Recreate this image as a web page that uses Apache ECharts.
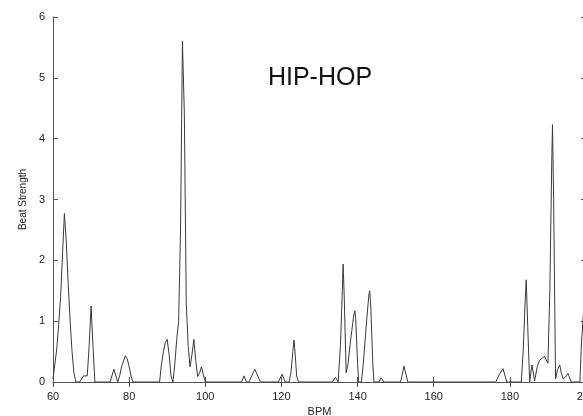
<!DOCTYPE html>
<html>
<head>
<meta charset="utf-8">
<script src="https://cdn.jsdelivr.net/npm/echarts@6/dist/echarts.min.js"></script>
<style>
  html, body { margin: 0; padding: 0; background: #fff; }
  #chart { width: 583px; height: 416px; }
</style>
</head>
<body>
<div id="chart"></div>
<script>
// Tempo (BPM) sample positions and the beat strength measured at each one
const bpm = [
  60, 60.5, 61, 61.5, 62, 62.5, 63, 63.5, 64, 64.5, 65, 65.5, 66,
  67, 67.5, 68, 69, 69.5, 70, 70.5, 71,
  75, 76, 77, 77.5, 78, 79, 79.5, 80, 80.5, 81,
  88, 88.5, 89, 89.5, 90, 90.5, 91, 91.5,
  92, 92.5, 93, 93.5, 94, 94.5, 95, 95.5, 96, 96.5, 97, 97.5, 98, 98.5, 99, 99.5, 100,
  109.5, 110.2, 110.8, 111.5, 113, 114.5,
  119.2, 120.2, 121, 122, 122.5, 123, 123.3, 123.5, 124, 124.5,
  133.4, 134.2, 134.9, 135.2, 135.5, 136, 136.2, 136.5, 137, 137.5, 138, 138.5, 139, 139.3, 139.5, 140, 140.3,
  141, 141.5, 142, 142.5, 143, 143.2, 143.5, 144, 144.3,
  145.6, 146.2, 146.9,
  151.3, 152.2, 153.2,
  176.3, 177.2, 178.2, 179.2,
  183, 183.5, 184, 184.3, 184.7, 185.2, 185.8, 186.5, 187.2, 187.8, 189.1, 190, 190.5, 191, 191.2, 191.5, 192,
  192.5, 193.1, 193.5, 194, 194.6, 195.3, 196.1,
  198.4, 198.8, 199.3, 200
];
const strength = [
  0.05, 0.3, 0.55, 0.95, 1.4, 2.1, 2.77, 2.3, 1.6, 1.0, 0.5, 0.15, 0,
  0, 0.05, 0.1, 0.1, 0.6, 1.25, 0.6, 0,
  0, 0.21, 0, 0.1, 0.25, 0.43, 0.38, 0.25, 0.1, 0,
  0, 0.3, 0.5, 0.65, 0.7, 0.45, 0.1, 0,
  0.3, 0.7, 1.0, 2.5, 5.6, 4.4, 1.3, 0.6, 0.25, 0.45, 0.7, 0.35, 0.09, 0.15, 0.25, 0.12, 0,
  0, 0.1, 0, 0, 0.21, 0,
  0, 0.13, 0, 0, 0.15, 0.5, 0.69, 0.55, 0.1, 0,
  0, 0.08, 0, 0, 0.6, 1.5, 1.94, 1.4, 0.15, 0.3, 0.6, 0.85, 1.1, 1.17, 1.05, 0.3, 0,
  0, 0.3, 0.7, 1.1, 1.45, 1.5, 1.2, 0.3, 0,
  0, 0.07, 0,
  0, 0.26, 0,
  0, 0.12, 0.22, 0,
  0, 0.5, 1.3, 1.68, 0.9, 0, 0.28, 0.02, 0.25, 0.36, 0.42, 0.31, 1.5, 3.6, 4.23, 3.0, 0.05,
  0.2, 0.28, 0.15, 0.05, 0.08, 0.14, 0,
  0, 0.64, 1.1, 1.5
];
const xTicks = [60, 80, 100, 120, 140, 160, 180, 200];
const yTicks = [0, 1, 2, 3, 4, 5, 6];

const points = bpm.map((b, i) => [b, strength[i]]);

const frame = '#555';
const labelFont = { fontFamily: 'Liberation Sans, Arial, sans-serif', fontSize: 11, color: '#222' };
const inwardTick = { show: true, inside: true, length: 5, lineStyle: { color: frame, width: 1 } };

const chart = echarts.init(document.getElementById('chart'), null, { renderer: 'canvas' });
chart.setOption({
  animation: false,
  backgroundColor: '#fff',
  title: {
    text: 'HIP-HOP',
    left: 315,
    top: 61,
    textAlign: 'center',
    textStyle: { fontFamily: 'Liberation Sans, Arial, sans-serif', fontSize: 25, fontWeight: 'normal', color: '#111' }
  },
  // the frame runs slightly past the right edge of the canvas
  grid: { left: 53, right: -3, top: 17, bottom: 34, containLabel: false, outerBoundsMode: 'none' },
  xAxis: [
    {
      type: 'value', position: 'bottom',
      min: xTicks[0], max: xTicks[xTicks.length - 1], interval: 20,
      name: 'BPM', nameLocation: 'middle', nameGap: 24,
      nameTextStyle: { fontFamily: 'Liberation Sans, Arial, sans-serif', fontSize: 11, color: '#222' },
      axisLine: { show: true, lineStyle: { color: frame, width: 1 } },
      axisTick: inwardTick,
      axisLabel: Object.assign({ margin: 9 }, labelFont),
      splitLine: { show: false }
    },
    {
      type: 'value', position: 'top',
      min: xTicks[0], max: xTicks[xTicks.length - 1], interval: 20,
      axisLine: { show: true, lineStyle: { color: frame, width: 1 } },
      axisTick: inwardTick,
      axisLabel: { show: false },
      splitLine: { show: false }
    }
  ],
  yAxis: [
    {
      type: 'value', position: 'left',
      min: yTicks[0], max: yTicks[yTicks.length - 1], interval: 1,
      name: 'Beat Strength', nameLocation: 'middle', nameGap: 23,
      nameTextStyle: { fontFamily: 'Liberation Sans, Arial, sans-serif', fontSize: 10, color: '#222' },
      axisLine: { show: true, lineStyle: { color: frame, width: 1 } },
      axisTick: inwardTick,
      axisLabel: Object.assign({ margin: 8 }, labelFont),
      splitLine: { show: false }
    },
    {
      type: 'value', position: 'right',
      min: yTicks[0], max: yTicks[yTicks.length - 1], interval: 1,
      axisLine: { show: true, lineStyle: { color: frame, width: 1 } },
      axisTick: inwardTick,
      axisLabel: { show: false },
      splitLine: { show: false }
    }
  ],
  series: [{
    type: 'line',
    data: points,
    xAxisIndex: 0,
    yAxisIndex: 0,
    showSymbol: false,
    symbol: 'none',
    lineStyle: { color: '#3a3a3a', width: 1 },
    clip: true
  }]
});
</script>
</body>
</html>
